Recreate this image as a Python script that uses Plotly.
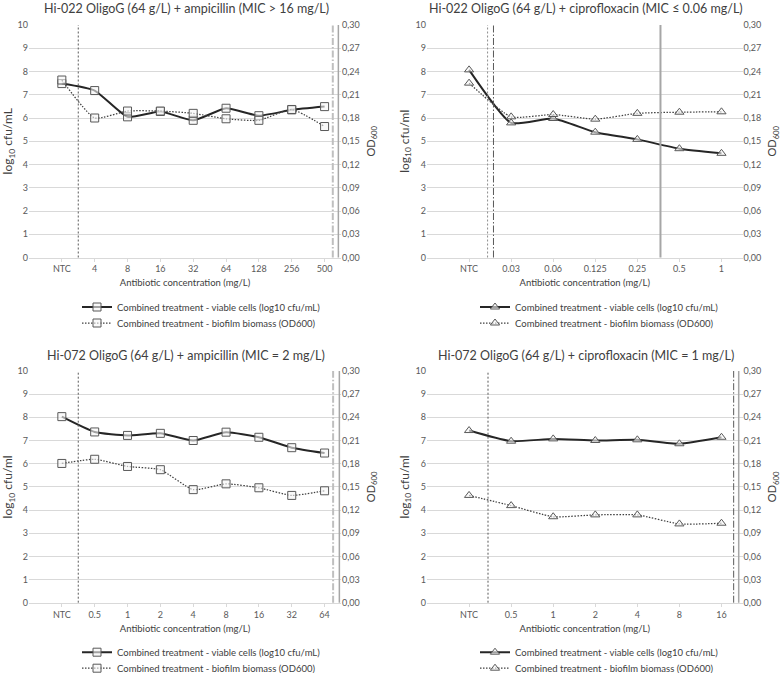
import plotly.graph_objects as go

W, H = 781, 673
FONT = "Lato, Liberation Sans, Arial, sans-serif"

# --- data ---
titles = [
    "Hi-022 OligoG (64 g/L) + ampicillin (MIC > 16 mg/L)",
    "Hi-022 OligoG (64 g/L) + ciprofloxacin (MIC ≤ 0.06 mg/L)",
    "Hi-072 OligoG (64 g/L) + ampicillin (MIC = 2 mg/L)",
    "Hi-072 OligoG (64 g/L) + ciprofloxacin (MIC = 1 mg/L)",
]
y_titles = ["log<sub>10</sub> cfu/mL", "log<sub>10</sub> cfu/ml",
            "log<sub>10</sub> cfu/ml", "log<sub>10</sub> cfu/ml"]
series_names = ["Combined treatment - viable cells (log10 cfu/mL)",
                "Combined treatment - biofilm biomass (OD600)"]

cats_022_amp = ["NTC", "4", "8", "16", "32", "64", "128", "256", "500"]
viable_022_amp = [7.48, 7.18, 6.05, 6.28, 5.90, 6.42, 6.10, 6.35, 6.49]
biomass_022_amp = [0.229, 0.180, 0.189, 0.189, 0.186, 0.179, 0.177, 0.191, 0.169]

cats_022_cip = ["NTC", "0.03", "0.06", "0.125", "0.25", "0.5", "1"]
viable_022_cip = [8.07, 5.79, 5.98, 5.39, 5.08, 4.68, 4.48]
biomass_022_cip = [0.225, 0.1815, 0.1845, 0.1785, 0.186, 0.1875, 0.188]

cats_072_amp = ["NTC", "0.5", "1", "2", "4", "8", "16", "32", "64"]
viable_072_amp = [8.03, 7.37, 7.22, 7.31, 7.00, 7.36, 7.14, 6.69, 6.46]
biomass_072_amp = [0.1803, 0.1857, 0.1764, 0.1722, 0.1464, 0.1539, 0.1488, 0.1389, 0.1449]

cats_072_cip = ["NTC", "0.5", "1", "2", "4", "8", "16"]
viable_072_cip = [7.43, 6.97, 7.07, 7.00, 7.03, 6.86, 7.14]
biomass_072_cip = [0.1389, 0.1257, 0.1113, 0.1137, 0.1137, 0.1020, 0.1029]

# vertical reference lines (category units): (position, dash, colour, width)
DOT = "2px,2px"
DASHDOT = "7px,2px,1.5px,2px"
ref_lines = [
    [(1.5, DOT, "#595959", 1), (9.25, DASHDOT, "#bfbfbf", 2), (9.42, "solid", "#a6a6a6", 1.5)],
    [(1.44, DOT, "#8c8c8c", 1), (1.58, DASHDOT, "#595959", 1), (5.55, "solid", "#a6a6a6", 2)],
    [(1.5, DOT, "#595959", 1), (9.26, DASHDOT, "#bfbfbf", 2), (9.45, "solid", "#a6a6a6", 1.5)],
    [(1.45, DOT, "#595959", 1), (7.29, DASHDOT, "#595959", 1), (7.41, "solid", "#a6a6a6", 1.5)],
]

panels = [
    (cats_022_amp, viable_022_amp, biomass_022_amp, "square"),
    (cats_022_cip, viable_022_cip, biomass_022_cip, "triangle-up"),
    (cats_072_amp, viable_072_amp, biomass_072_amp, "square"),
    (cats_072_cip, viable_072_cip, biomass_072_cip, "triangle-up"),
]

# panel boxes in pixels: (left, right, top, bottom)
boxes = [(29, 341, 25, 257.5), (427, 742.5, 25, 257.5),
         (29, 341, 371, 602.7), (427, 742.5, 371, 602.7)]


def fx(px):
    return px / W


def fy(py):
    return 1 - py / H


fig = go.Figure()
annotations = []
shapes = []
layout = {}

for i, (cats, viable, biomass, symbol) in enumerate(panels):
    n = len(cats)
    xs = list(range(1, n + 1))
    xk = "x" if i == 0 else f"x{i + 1}"
    yl = "y" if i == 0 else f"y{2 * i + 1}"
    yr = f"y{2 * i + 2}"
    legs = ["legend" if i == 0 else f"legend{2 * i + 1}", f"legend{2 * i + 2}"]
    marker = dict(symbol=symbol, size=8, color="rgba(245,245,245,0.6)",
                  line=dict(color="#595959", width=1))

    fig.add_trace(go.Scatter(
        x=xs, y=viable, xaxis=xk, yaxis=yl, mode="lines+markers",
        line=dict(color="#262626", width=2, shape="spline", smoothing=0.5),
        marker=marker, legend=legs[0], name=series_names[0]))
    fig.add_trace(go.Scatter(
        x=xs, y=biomass, xaxis=xk, yaxis=yr, mode="lines+markers",
        line=dict(color="#404040", width=1.25, dash="1.5px,1.5px",
                  shape="spline", smoothing=0.5),
        marker=marker, legend=legs[1], name=series_names[1]))

    l, r, t, b = boxes[i]
    xdom = [fx(l), fx(r)]
    ydom = [fy(b), fy(t)]
    tick_font = dict(family=FONT, size=9, color="#595959")

    layout["xaxis" if i == 0 else f"xaxis{i + 1}"] = dict(
        domain=xdom, anchor=yl, range=[0, n + 0.5], tickvals=xs, ticktext=cats,
        showgrid=False, showline=True, linecolor="#d9d9d9", linewidth=1,
        ticks="outside", ticklen=3, tickcolor="#d9d9d9", tickfont=tick_font,
        zeroline=False, automargin=False,
        title=dict(text="Antibiotic concentration (mg/L)", standoff=6,
                   font=dict(family=FONT, size=9.5, color="#404040")))
    layout["yaxis" if i == 0 else f"yaxis{2 * i + 1}"] = dict(
        domain=ydom, anchor=xk, range=[0, 10], dtick=1, showgrid=True,
        gridcolor="#d9d9d9", gridwidth=1, zeroline=False, tickfont=tick_font,
        ticks="", automargin=False,
        title=dict(text=y_titles[i], standoff=3,
                   font=dict(family=FONT, size=12, color="#404040")))
    layout[f"yaxis{2 * i + 2}"] = dict(
        domain=ydom, anchor=xk, overlaying=yl, side="right", range=[0, 0.3],
        dtick=0.03, tickformat=".2f", showgrid=False, zeroline=False,
        tickfont=tick_font, automargin=False,
        title=dict(text="OD<sub>600</sub>", standoff=8,
                   font=dict(family=FONT, size=11, color="#404040")))

    annotations.append(dict(
        text=titles[i], xref="paper", yref="paper", x=fx((l + r) / 2 + 1),
        y=fy(t - 16), xanchor="center", yanchor="middle", showarrow=False,
        font=dict(family=FONT, size=12.5, color="#404040")))

    for k, leg in enumerate(legs):
        layout[leg] = dict(
            x=fx(l + 48), y=fy(b + 49.5 + 16 * k), xanchor="left", yanchor="middle",
            bgcolor="rgba(0,0,0,0)", itemwidth=30,
            font=dict(family=FONT, size=9.5, color="#404040"))

    for pos, dash, col, wd in ref_lines[i]:
        shapes.append(dict(type="line", xref=xk, yref=f"{yl} domain", x0=pos, x1=pos,
                           y0=0, y1=1, line=dict(color=col, width=wd, dash=dash)))

fig.update_layout(
    width=W, height=H, margin=dict(l=0, r=0, t=0, b=0, autoexpand=False),
    plot_bgcolor="white", paper_bgcolor="white", separators=",.",
    showlegend=True, annotations=annotations, shapes=shapes,
    font=dict(family=FONT, color="#595959"), **layout)

# drop the default page margin so the figure fills the window exactly
fig.write_html("out.html", config={"displayModeBar": False},
               post_script="document.body.style.margin = '0';")
